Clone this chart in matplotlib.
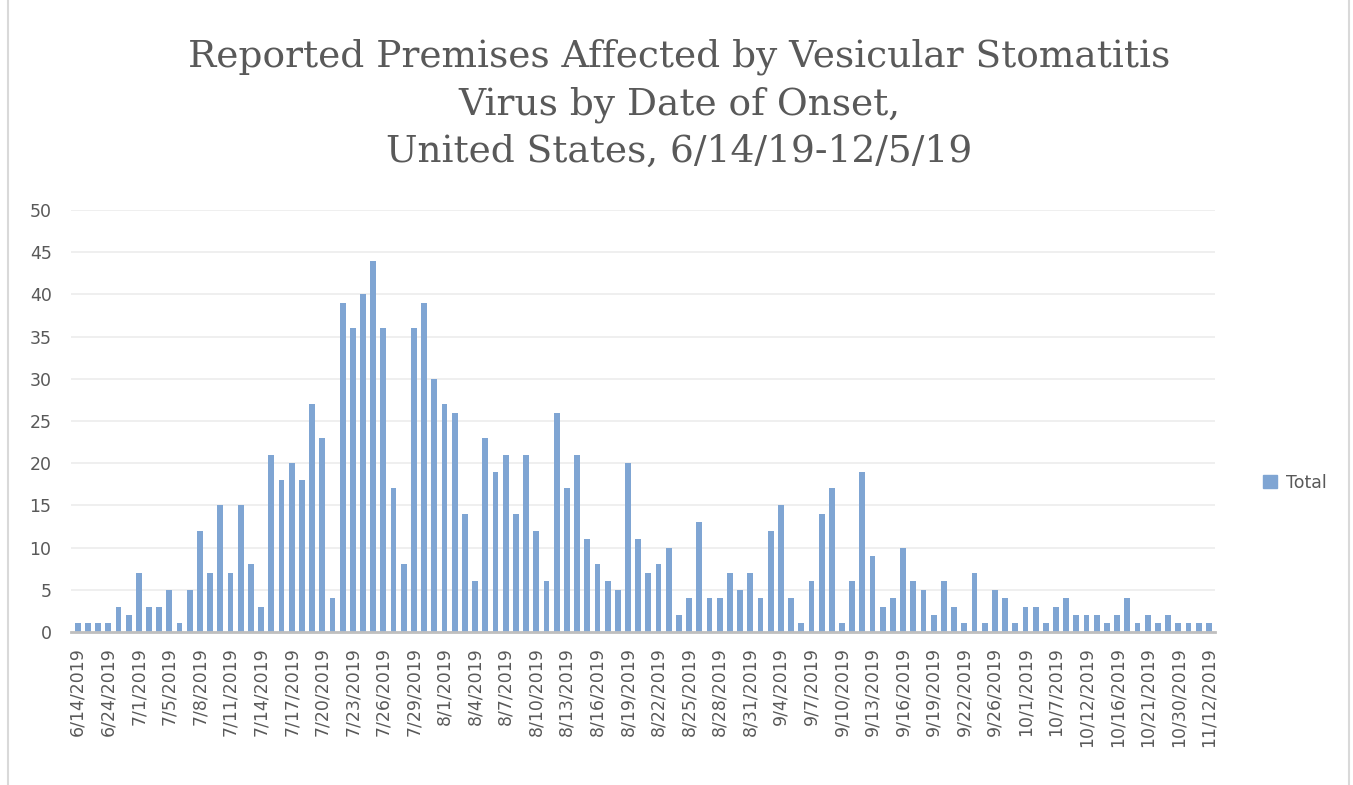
import numpy as np
import matplotlib
matplotlib.use("Agg")
import matplotlib.pyplot as plt
from matplotlib.lines import Line2D
from matplotlib.patches import Patch

# premises per onset date (one bar per reported date)
counts = [1, 1, 1, 1, 3, 2, 7, 3, 3, 5, 1, 5, 12, 7, 15, 7, 15, 8, 3, 21,
          18, 20, 18, 27, 23, 4, 39, 36, 40, 44, 36, 17, 8, 36, 39, 30, 27, 26, 14, 6,
          23, 19, 21, 14, 21, 12, 6, 26, 17, 21, 11, 8, 6, 5, 20, 11, 7, 8, 10, 2,
          4, 13, 4, 4, 7, 5, 7, 4, 12, 15, 4, 1, 6, 14, 17, 1, 6, 19, 9, 3,
          4, 10, 6, 5, 2, 6, 3, 1, 7, 1, 5, 4, 1, 3, 3, 1, 3, 4, 2, 2,
          2, 1, 2, 4, 1, 2, 1, 2, 1, 1, 1, 1]

# every third date is labelled on the axis
tick_labels = ["6/14/2019", "6/24/2019", "7/1/2019", "7/5/2019", "7/8/2019",
               "7/11/2019", "7/14/2019", "7/17/2019", "7/20/2019", "7/23/2019",
               "7/26/2019", "7/29/2019", "8/1/2019", "8/4/2019", "8/7/2019",
               "8/10/2019", "8/13/2019", "8/16/2019", "8/19/2019", "8/22/2019",
               "8/25/2019", "8/28/2019", "8/31/2019", "9/4/2019", "9/7/2019",
               "9/10/2019", "9/13/2019", "9/16/2019", "9/19/2019", "9/22/2019",
               "9/26/2019", "10/1/2019", "10/7/2019", "10/12/2019", "10/16/2019",
               "10/21/2019", "10/30/2019", "11/12/2019"]

title = "Reported Premises Affected by Vesicular Stomatitis\nVirus by Date of Onset,\nUnited States, 6/14/19-12/5/19"

bar_color = "#7fa5d3"
text_color = "#595959"

fig = plt.figure(figsize=(13.53, 7.85), dpi=100)
ax = fig.add_axes([0.0525, 0.195, 0.8455, 0.5375])

x = np.arange(len(counts))
ax.bar(x, counts, width=0.57, color=bar_color, zorder=2)

ax.set_ylim(0, 50)
ax.set_yticks(range(0, 51, 5))
ax.set_xlim(-0.65, len(counts) - 0.4)
ax.set_xticks(x[::3])
ax.set_xticklabels(tick_labels, rotation=90)

ax.grid(axis="y", color="#ececec", linewidth=1.2, zorder=0)
for side in ["top", "right", "left"]:
    ax.spines[side].set_visible(False)
ax.spines["bottom"].set_color("#bfbfbf")
ax.spines["bottom"].set_linewidth(2)
ax.spines["bottom"].set_zorder(3)
ax.tick_params(axis="both", length=0, labelsize=12.5, labelcolor=text_color)
ax.tick_params(axis="x", pad=11)
ax.tick_params(axis="y", pad=14)

fig.text(0.502, 0.951, title, ha="center", va="top", fontsize=27,
         family="DejaVu Serif", color=text_color, linespacing=1.40)

leg = fig.legend(handles=[Patch(color=bar_color, label="Total")],
                 loc="center left", bbox_to_anchor=(0.922, 0.385), frameon=False,
                 fontsize=12.5, handlelength=0.8, handleheight=0.8, handletextpad=0.5)
for t in leg.get_texts():
    t.set_color(text_color)

# chart border like the spreadsheet frame
fig.add_artist(Line2D([0.006, 0.006], [0, 1], color="#d9d9d9", lw=1.5))
fig.add_artist(Line2D([0.997, 0.997], [0, 1], color="#d9d9d9", lw=1.5))

plt.savefig("out.png", dpi=100)
plt.close()
